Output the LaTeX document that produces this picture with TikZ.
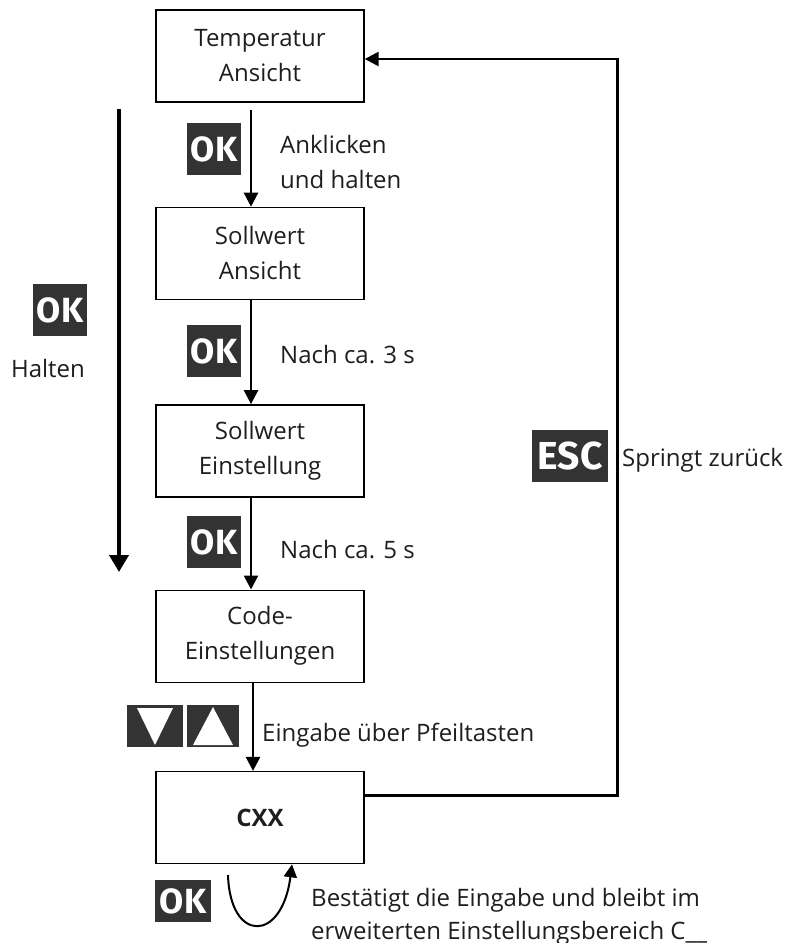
\documentclass[tikz,border=0pt]{standalone}
\usepackage{fontspec}
\setmainfont{Open Sans}
\newfontfamily\keyfamily{Fira Sans}
\usetikzlibrary{positioning}
\usetikzlibrary{arrows.meta}
\definecolor{keygray}{HTML}{333333}
\definecolor{inkgray}{HTML}{1E1E1E}

\tikzset{
  stepbox/.style={draw, line width=1.4pt, minimum width=208pt, minimum height=92pt, align=center, text=inkgray, font=\fontsize{24}{35}\selectfont},
  keycap/.style={fill=keygray, text=white, inner sep=0pt, minimum width=54pt, minimum height=52pt, font=\keyfamily\bfseries\fontsize{35}{35}\selectfont},
  hint/.style={inner sep=0pt, align=left, text=inkgray, font=\fontsize{24}{35}\selectfont},
  flow/.style={line width=2.5pt, -{Triangle[width=14pt,length=14pt]}},
}

\begin{document}
\begin{tikzpicture}[x=1pt, y=1pt]
    \useasboundingbox (0,0) rectangle (796,-943);

    % boxes
    \node(T1)[stepbox] at (260,-56){Temperatur\\Ansicht};
    \node(S1)[stepbox, below=104pt of T1]{Sollwert\\Ansicht};
    \node(S2)[stepbox, below=104pt of S1]{Sollwert\\Einstellung};
    \node(C1)[stepbox, below=92pt of S2]{Code-\\Einstellungen};
    \node(C2)[stepbox, below=88pt of C1, font=\bfseries\fontsize{24}{35}\selectfont]{CXX};

    \draw[flow] ([xshift=-9pt,yshift=-7pt]T1.south) -- ([xshift=-9pt]S1.north);
    \draw[flow] ([xshift=-9pt]S1.south) -- ([xshift=-9pt]S2.north);
    \draw[flow] ([xshift=-9pt]S2.south) -- ([xshift=-9pt]C1.north);
    \draw[flow] ([xshift=-7pt]C1.south) -- ([xshift=-7pt]C2.north);

    % keys
    \node(K1)[keycap] at (214,-149){OK};
    \node(K2)[keycap] at (214,-351){OK};
    \node(K3)[keycap] at (214,-542){OK};
    \node(K0)[keycap] at (60,-310){OK};
    \node(KD)[keycap, minimum width=56pt, minimum height=42pt] at (155,-726){};
    \node(KU)[keycap, minimum width=52pt, minimum height=42pt] at (213,-726){};
    \node(KE)[keycap, minimum width=76pt, font=\keyfamily\bfseries\fontsize{39}{39}\selectfont] at (570,-456){ESC};
    \node(K5)[keycap, minimum width=56pt, minimum height=42pt] at (183,-901){OK};

    \fill[white] ([shift={(-18,18)}]KD.center) -- ([shift={(18,18)}]KD.center) -- ([shift={(0,-19)}]KD.center) -- cycle;
    \fill[white] ([shift={(-20,-19)}]KU.center) -- ([shift={(20,-19)}]KU.center) -- ([shift={(0,19)}]KU.center) -- cycle;

    % labels
    \node(L1)[hint, anchor=base west] at (280,-188){Anklicken\\und halten};
    \node(L2)[hint, anchor=base west] at (280,-363){Nach ca. 3 s};
    \node(L3)[hint, anchor=base west] at (280,-558){Nach ca. 5 s};
    \node(L4)[hint, anchor=base west] at (262,-741){Eingabe über Pfeiltasten};
    \node(L5)[hint, anchor=base west] at (622,-466){Springt zurück};
    \node(L6)[hint, anchor=base] at (48,-377){Halten};
    \node(L7)[hint, anchor=base west, font=\fontsize{24}{33}\selectfont] at (311,-939){Bestätigt die Eingabe und bleibt im\\erweiterten Einstellungsbereich C\_\_};

    % hold arrow
    \coordinate(H0) at (119,-109);
    \coordinate(H1) at (119,-572);
    \draw[line width=4pt, -{Triangle[width=19pt,length=17pt]}] (H0) -- (H1);

    % back to start
    \draw[flow] ([yshift=22pt]C2.east) -| ([xshift=253pt,yshift=-3pt]T1.east) -- ([yshift=-3pt]T1.east);

    % confirm loop
    \coordinate(R0) at (228,-875);
    \draw[line width=2pt, -{Triangle[width=13pt,length=13pt]}] (R0) .. controls (230,-943) and (282,-943) .. ([xshift=32pt]C2.south);

\end{tikzpicture}
\end{document}
